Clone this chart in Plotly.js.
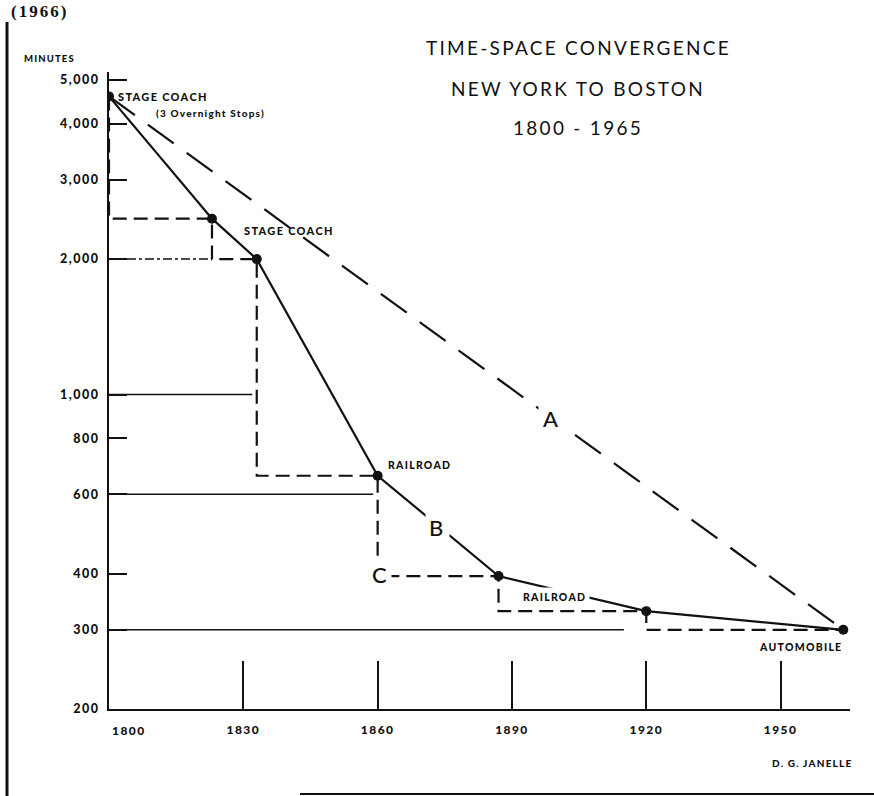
<!DOCTYPE html>
<html>
<head>
<meta charset="utf-8">
<script src="https://cdn.plot.ly/plotly-3.0.1.min.js"></script>
<style>
  html, body { margin: 0; padding: 0; background: #fff; }
  #chart { width: 874px; height: 796px; }
  svg text { letter-spacing: 0.12em; }
</style>
</head>
<body>
<div id="chart"></div>
<script>
// ---- data ----
const years   = [1800, 1823, 1833, 1860, 1887, 1920, 1964];
const minutes = [4600, 2460, 2000, 660, 395, 330, 300];

const lineAYears   = [1800, 1964];
const lineAMinutes = [4600, 300];

const refLevels = [2000, 1000, 600, 300];
const refEnds   = [1823, 1832, 1859, 1915];

const yTickVals = [200, 300, 400, 600, 800, 1000, 2000, 3000, 4000, 5000];
const yTickText = ['200', '300', '400', '600', '800', '1,000', '2,000', '3,000', '4,000', '5,000'];
const xTickVals = [1830, 1860, 1890, 1920, 1950];
const xTickText = ['1830', '1860', '1890', '1920', '1950'];

// ---- layout helpers (pixel -> paper) ----
const W = 874, H = 796;
const L = 109, R = 24, T = 72, B = 87;
const PW = W - L - R, PH = H - T - B;
const px = x => (x - L) / PW;
const py = y => (H - B - y) / PH;

const ink = '#111';
const lab = (size, weight) => ({family: 'Lato, "Noto Sans", sans-serif', size: size, color: ink, weight: weight});

const traces = [];

// reference horizontal lines
refLevels.forEach((lv, i) => {
  traces.push({
    x: [1800, refEnds[i]], y: [lv, lv], mode: 'lines', hoverinfo: 'skip',
    line: {color: ink, width: 1.5, dash: lv === 2000 ? 'dashdot' : 'solid'}
  });
});

// C: stepped dashed line
traces.push({
  x: years, y: minutes, mode: 'lines', hoverinfo: 'skip',
  line: {color: ink, width: 2.2, shape: 'vh', dash: '14px,7px'}
});

// A: long dashed line
traces.push({
  x: lineAYears, y: lineAMinutes, mode: 'lines', hoverinfo: 'skip',
  line: {color: ink, width: 2.2, dash: '32px,16px'}
});

// B: solid line with points
traces.push({
  x: years, y: minutes, mode: 'lines+markers', hoverinfo: 'skip',
  line: {color: ink, width: 2.2},
  marker: {color: ink, size: 10}
});

const ann = (text, x, y, opt) => Object.assign({
  text: text, xref: 'paper', yref: 'paper', x: px(x), y: py(y),
  showarrow: false, xanchor: 'center', yanchor: 'middle',
  font: lab(11, 900), borderpad: 0
}, opt || {});

const annotations = [
  ann('(1966)', 40, 1, {yanchor: 'top', font: {family: '"Liberation Serif", serif', size: 17, color: ink, weight: 700}}),
  ann('TIME-SPACE CONVERGENCE', 578, 48, {font: lab(19, 400)}),
  ann('NEW YORK TO BOSTON', 578, 88, {font: lab(19, 400)}),
  ann('1800 - 1965', 578, 127, {font: lab(19, 400)}),
  ann('MINUTES', 23, 59, {xanchor: 'left', font: lab(9.5, 900)}),
  ann('STAGE COACH', 117, 96, {xanchor: 'left', font: lab(11, 900)}),
  ann('(3 Overnight Stops)', 155, 113, {xanchor: 'left', font: lab(10, 900)}),
  ann('STAGE COACH', 243, 231, {xanchor: 'left', font: lab(11, 900)}),
  ann('RAILROAD', 387, 465, {xanchor: 'left', font: lab(10.5, 900)}),
  ann('B', 437, 527, {font: lab(22, 500), bgcolor: '#fff', borderpad: 3}),
  ann('C', 380, 574, {font: lab(22, 500), bgcolor: '#fff', borderpad: 2}),
  ann('A', 552, 418, {font: lab(22, 500), bgcolor: '#fff', borderpad: 4}),
  ann('RAILROAD', 519, 597, {xanchor: 'left', font: lab(10.5, 900), bgcolor: '#fff', borderpad: 3}),
  ann('AUTOMOBILE', 843, 647, {xanchor: 'right', font: lab(10.5, 900)}),
  ann('D. G. JANELLE', 853, 763, {xanchor: 'right', font: lab(10, 900)}),
  ann('1800', 129, 730, {font: lab(12, 900)})
];

const shapes = [
  {type: 'line', xref: 'paper', yref: 'paper', x0: px(7), x1: px(7), y0: py(22), y1: py(796), line: {color: ink, width: 3}},
  {type: 'line', xref: 'paper', yref: 'paper', x0: px(300), x1: px(874), y0: py(794), y1: py(794), line: {color: ink, width: 2}}
];

const layout = {
  width: W, height: H,
  margin: {l: L, r: R, t: T, b: B, pad: 0},
  paper_bgcolor: '#fff', plot_bgcolor: '#fff',
  showlegend: false,
  xaxis: {
    range: [1800, 1965.5], showgrid: false, zeroline: false,
    showline: true, linecolor: ink, linewidth: 2,
    tickvals: xTickVals, ticktext: xTickText,
    ticks: 'inside', ticklen: 48, tickwidth: 2, tickcolor: ink,
    ticklabelstandoff: 9,
    tickfont: lab(12, 900)
  },
  yaxis: {
    type: 'log', range: [Math.log10(200), Math.log10(5000) + 0.018],
    showgrid: false, zeroline: false,
    showline: true, linecolor: ink, linewidth: 2,
    tickvals: yTickVals, ticktext: yTickText,
    ticks: 'inside', ticklen: 18, tickwidth: 2, tickcolor: ink,
    ticklabelstandoff: 5,
    tickfont: lab(12.5, 900)
  },
  annotations: annotations,
  shapes: shapes
};

Plotly.newPlot('chart', traces, layout, {displayModeBar: false, staticPlot: true});
</script>
</body>
</html>
